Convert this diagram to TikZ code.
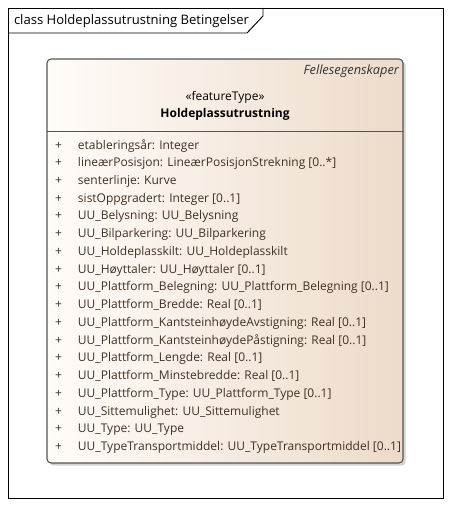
\documentclass[tikz,border=0pt]{standalone}
\usepackage{fontspec}
\setmainfont{Open Sans}
\usetikzlibrary{positioning,shadows}

\definecolor{clsleft}{RGB}{255,252,249}
\definecolor{clsright}{RGB}{237,219,202}
\definecolor{clsline}{RGB}{85,85,85}
\definecolor{attrtext}{RGB}{65,48,36}

\begin{document}
\begin{tikzpicture}
[x=0.75pt, y=-0.75pt, font=\fontsize{9}{13.3}\selectfont,
    every node/.style={inner sep=0pt, outer sep=0pt},
    framebox/.style={draw=black, line width=0.7pt},
    classbox/.style={rectangle, rounded corners=3pt, draw=clsline,
    line width=0.8pt, left color=clsleft, right color=clsright,
    drop shadow={shadow xshift=2pt, shadow yshift=-2pt, opacity=0.35}},
    % attrs/.style={text=attrtext, align=left},
    ]

    \useasboundingbox (0,0) rectangle (453,506);

    \draw[framebox] (8,8) rectangle (443,498);
    \node (diagtitle) [anchor=west, font=\fontsize{9.8}{12}\selectfont] at (14,21)
        {class Holdeplassutrustning Betingelser};
    \draw[framebox] (8,33) -- (247,33) -- (263,16) -- (263,8);

    \node (cls) [classbox, minimum width=267pt, minimum height=303pt] at (225,261) {};

    \node (pkg) [anchor=east, font=\fontsize{9.6}{12}\selectfont\itshape,
        text=black!80] at (399,71) {Fellesegenskaper};
    \node (stereo) at (225,97) {«featureType»};
    \node (clsname) [font=\fontsize{9}{12}\selectfont\bfseries] at (225,114)
        {Holdeplassutrustning};

    \coordinate (sep) at (0,131);
    \draw[clsline, line width=0.7pt] (cls.west |- sep) -- (cls.east |- sep);

    \node (attrs) [anchor=north west, text=attrtext, align=left] at (55,136.6) {%
    \begin{tabular}{@{}p{17.25pt}@{}l@{}}
    + & etableringsår: Integer \\
    + & lineærPosisjon: LineærPosisjonStrekning [0..*] \\
    + & senterlinje: Kurve \\
    + & sistOppgradert: Integer [0..1] \\
    + & UU\_Belysning: UU\_Belysning \\
    + & UU\_Bilparkering: UU\_Bilparkering \\
    + & UU\_Holdeplasskilt: UU\_Holdeplasskilt \\
    + & UU\_Høyttaler: UU\_Høyttaler [0..1] \\
    + & UU\_Plattform\_Belegning: UU\_Plattform\_Belegning [0..1] \\
    + & UU\_Plattform\_Bredde: Real [0..1] \\
    + & UU\_Plattform\_KantsteinhøydeAvstigning: Real [0..1] \\
    + & UU\_Plattform\_KantsteinhøydePåstigning: Real [0..1] \\
    + & UU\_Plattform\_Lengde: Real [0..1] \\
    + & UU\_Plattform\_Minstebredde: Real [0..1] \\
    + & UU\_Plattform\_Type: UU\_Plattform\_Type [0..1] \\
    + & UU\_Sittemulighet: UU\_Sittemulighet \\
    + & UU\_Type: UU\_Type \\
    + & UU\_TypeTransportmiddel: UU\_TypeTransportmiddel [0..1] \\
    \end{tabular}};

\end{tikzpicture}
\end{document}
